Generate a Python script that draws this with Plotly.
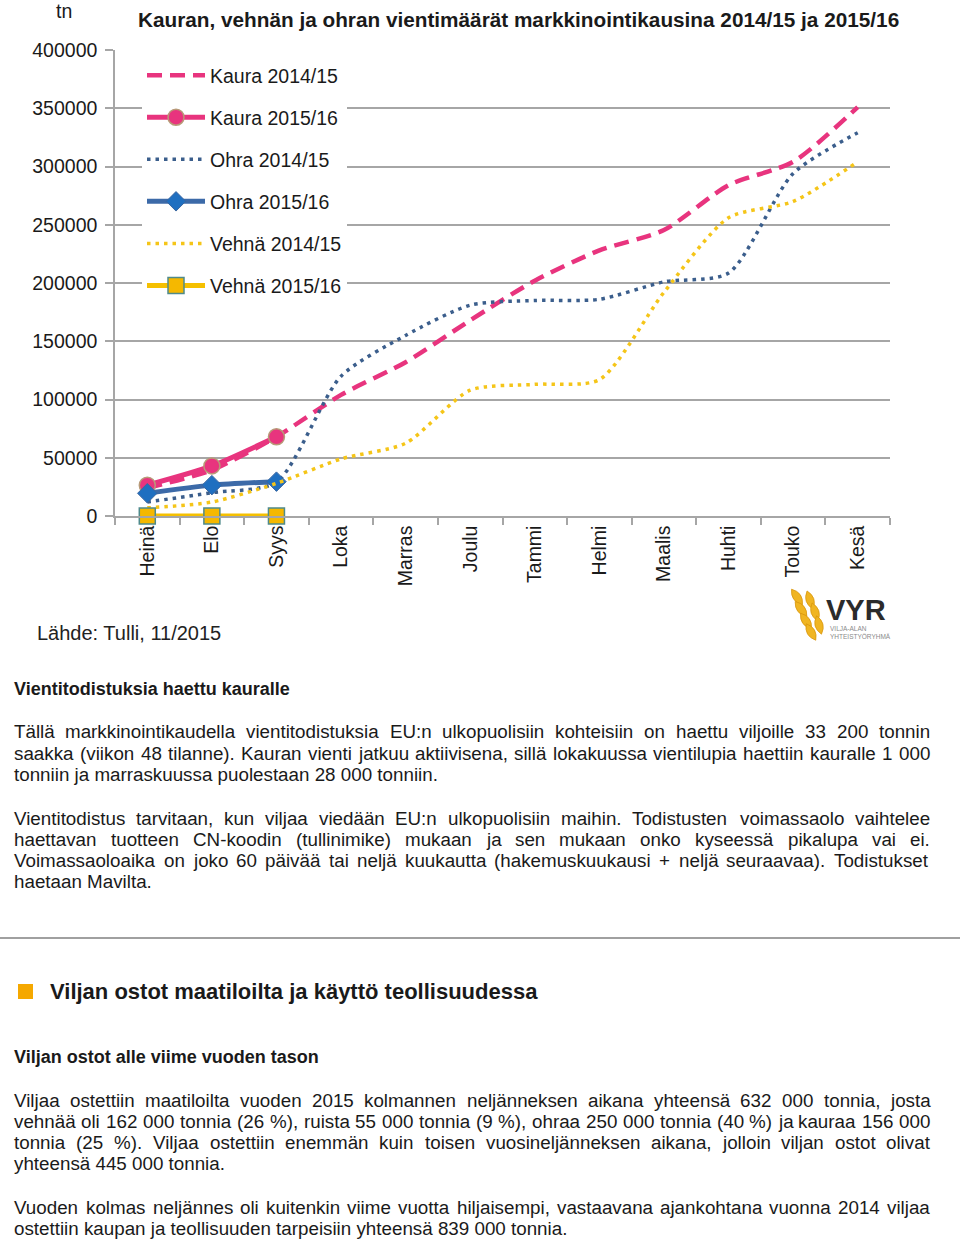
import math
import plotly.graph_objects as go

# chart data (tonnes, cumulative per marketing season)
months = ["Heinä", "Elo", "Syys", "Loka", "Marras", "Joulu",
          "Tammi", "Helmi", "Maalis", "Huhti", "Touko", "Kesä"]
kaura_1415 = [24000, 39500, 68000, 104000, 132000, 168000, 202000, 228000, 245500, 284000, 304000, 351000]
kaura_1516 = [26500, 43000, 68000]
ohra_1415 = [12000, 20000, 29000, 120000, 155000, 181000, 185000, 186000, 201000, 208500, 294000, 329000]
ohra_1516 = [19500, 26500, 29500]
vehna_1415 = [7000, 12000, 28000, 49000, 62500, 108000, 113000, 117000, 192000, 256000, 270000, 304000]
vehna_1516 = [0, 0, 0]

W, H = 960, 1242
FONT = "Liberation Sans, Arial, sans-serif"
TXT = "#1a1a1a"
GRID = "#a6a6a6"
PINK = "#e8347e"
NAVY = "#3b5e8c"
BLUE = "#3c6aa8"
YELLOW = "#f5c518"


def px(x):
    return x / W


def py(y):
    return 1 - y / H


# Arial / Liberation Sans advance widths (1/1000 em), used to justify text
REG = {" ": 278, "%": 889, "(": 333, ")": 333, "+": 584, ",": 278, "-": 333, ".": 278,
       "/": 278, ":": 278,
       "A": 667, "B": 667, "C": 722, "D": 722, "E": 667, "F": 611, "G": 778, "H": 722,
       "I": 278, "J": 500, "K": 667, "L": 556, "M": 833, "N": 722, "O": 778, "P": 667,
       "Q": 778, "R": 722, "S": 667, "T": 611, "U": 722, "V": 667, "W": 944, "X": 667,
       "Y": 667, "Z": 611,
       "a": 556, "b": 556, "c": 500, "d": 556, "e": 556, "f": 278, "g": 556, "h": 556,
       "i": 222, "j": 222, "k": 500, "l": 222, "m": 833, "n": 556, "o": 556, "p": 556,
       "q": 556, "r": 333, "s": 500, "t": 278, "u": 556, "v": 500, "w": 722, "x": 500,
       "y": 500, "z": 500, "ä": 556, "ö": 556, "å": 556}
for d in "0123456789":
    REG[d] = 556


def text_w(s, size):
    return sum(REG.get(c, 556) for c in s) / 1000 * size


annotations = []
shapes = []


def label(x, y, text, size, bold=False, color=TXT, anchor="left"):
    if bold:
        text = "<b>" + text + "</b>"
    annotations.append(dict(x=px(x), y=py(y), xref="paper", yref="paper", text=text,
                            showarrow=False, xanchor=anchor, yanchor="middle",
                            font=dict(family=FONT, size=size, color=color)))


def paragraph(lines, y0, size=18.8, step=21.3, left=14, right=930):
    for i, line in enumerate(lines):
        y = y0 + i * step
        if i == len(lines) - 1:
            label(left - 2, y, line, size)
            continue
        words = line.split(" ")
        widths = [text_w(w, size) for w in words]
        gap = (right - left - sum(widths)) / (len(words) - 1)
        x = left
        for w, ww in zip(words, widths):
            label(x - 2, y, w, size)
            x += ww + gap


fig = go.Figure()

spline = dict(shape="spline", smoothing=0.7)
fig.add_trace(go.Scatter(x=months, y=kaura_1415, name="Kaura 2014/15", mode="lines",
                         legendgroup="a",
                         line=dict(color=PINK, width=4.5, dash="15px,8px", **spline)))
fig.add_trace(go.Scatter(x=months[:3], y=kaura_1516, name="Kaura 2015/16", mode="lines+markers",
                         legendgroup="b",
                         line=dict(color=PINK, width=5, **spline),
                         marker=dict(symbol="circle", size=16, color=PINK,
                                     line=dict(color="#b89a78", width=1.5))))
fig.add_trace(go.Scatter(x=months, y=ohra_1415, name="Ohra 2014/15", mode="lines",
                         legendgroup="c",
                         line=dict(color=NAVY, width=3.5, dash="3.5px,5px", **spline)))
fig.add_trace(go.Scatter(x=months[:3], y=ohra_1516, name="Ohra 2015/16", mode="lines+markers",
                         legendgroup="d",
                         line=dict(color=BLUE, width=5, **spline),
                         marker=dict(symbol="diamond", size=15, color="#1f6fc0",
                                     line=dict(color="#3a66a0", width=1))))
fig.add_trace(go.Scatter(x=months, y=vehna_1415, name="Vehnä 2014/15", mode="lines",
                         legendgroup="e",
                         line=dict(color=YELLOW, width=3.5, dash="3.5px,5px", **spline)))
fig.add_trace(go.Scatter(x=months[:3], y=vehna_1516, name="Vehnä 2015/16", mode="lines+markers",
                         legendgroup="f",
                         line=dict(color="#f5c000", width=5),
                         marker=dict(symbol="square", size=16, color="#f5b800",
                                     line=dict(color="#4f8a8b", width=1.5)),
                         cliponaxis=False))

# chart texts
label(518, 20, "Kauran, vehnän ja ohran vientimäärät markkinointikausina 2014/15 ja 2015/16",
      20.75, bold=True, anchor="center")
label(64, 11, "tn", 19.5, anchor="center")
label(35, 633, "Lähde: Tulli, 11/2015", 20, color="#222222")


# VYR logo: wheat ear built from grain shapes
def grain(cx, cy, length, width, ang):
    a = math.radians(ang)
    dx, dy = math.cos(a) * length / 2, math.sin(a) * length / 2
    nx, ny = -math.sin(a) * width, math.cos(a) * width
    x1, y1, x2, y2 = cx - dx, cy - dy, cx + dx, cy + dy
    p = (f"M {px(x1)},{py(y1)} Q {px(cx + nx)},{py(cy + ny)} {px(x2)},{py(y2)} "
         f"Q {px(cx - nx)},{py(cy - ny)} {px(x1)},{py(y1)} Z")
    return dict(type="path", path=p, xref="paper", yref="paper",
                fillcolor="#f0b522", line=dict(color="#d8960c", width=0.8), layer="above")


for cx, cy, ang in [(797, 597, 55), (801, 609, 52), (806, 621, 55), (811, 632, 60),
                    (810, 600, 72), (815, 612, 72), (819, 625, 75)]:
    shapes.append(grain(cx, cy, 19, 8, ang))
label(824, 610, "VYR", 29, bold=True, color="#2b2b2b")
annotations.append(dict(x=px(828), y=py(632), xref="paper", yref="paper",
                        text="VILJA-ALAN<br>YHTEISTYÖRYHMÄ", showarrow=False,
                        xanchor="left", yanchor="middle", align="left",
                        font=dict(family=FONT, size=6.5, color="#8a8a8a")))

# document text below the chart
label(12, 689, "Vientitodistuksia haettu kauralle", 18, bold=True)
paragraph([
    "Tällä markkinointikaudella vientitodistuksia EU:n ulkopuolisiin kohteisiin on haettu viljoille 33 200 tonnin",
    "saakka (viikon 48 tilanne). Kauran vienti jatkuu aktiivisena, sillä lokakuussa vientilupia haettiin kauralle 1 000",
    "tonniin ja marraskuussa puolestaan 28 000 tonniin.",
], 732)
paragraph([
    "Vientitodistus tarvitaan, kun viljaa viedään EU:n ulkopuolisiin maihin. Todistusten voimassaolo vaihtelee",
    "haettavan tuotteen CN-koodin (tullinimike) mukaan ja sen mukaan onko kyseessä pikalupa vai ei.",
    "Voimassaoloaika on joko 60 päivää tai neljä kuukautta (hakemuskuukausi + neljä seuraavaa). Todistukset",
    "haetaan Mavilta.",
], 818)

shapes.append(dict(type="line", xref="paper", yref="paper", x0=0, x1=1,
                   y0=py(938), y1=py(938), line=dict(color="#a0a0a0", width=2)))
shapes.append(dict(type="rect", xref="paper", yref="paper", x0=px(18), x1=px(33),
                   y0=py(999), y1=py(984), fillcolor="#f5a800", line=dict(width=0)))
label(48, 991, "Viljan ostot maatiloilta ja käyttö teollisuudessa", 22, bold=True)
label(12, 1057, "Viljan ostot alle viime vuoden tason", 18, bold=True)
paragraph([
    "Viljaa ostettiin maatiloilta vuoden 2015 kolmannen neljänneksen aikana yhteensä 632 000 tonnia, josta",
    "vehnää oli 162 000 tonnia (26 %), ruista 55 000 tonnia (9 %), ohraa 250 000 tonnia (40 %) ja kauraa 156 000",
    "tonnia (25 %). Viljaa ostettiin enemmän kuin toisen vuosineljänneksen aikana, jolloin viljan ostot olivat",
    "yhteensä 445 000 tonnia.",
], 1100)
paragraph([
    "Vuoden kolmas neljännes oli kuitenkin viime vuotta hiljaisempi, vastaavana ajankohtana vuonna 2014 viljaa",
    "ostettiin kaupan ja teollisuuden tarpeisiin yhteensä 839 000 tonnia.",
], 1207)

fig.update_layout(
    width=W, height=H, autosize=False,
    margin=dict(l=0, r=0, t=0, b=0, pad=0, autoexpand=False),
    paper_bgcolor="white", plot_bgcolor="white",
    font=dict(family=FONT, color=TXT),
    xaxis=dict(domain=[px(115), px(890)], type="category", range=[-0.5, 11.5],
               automargin=False,
               showline=True, linecolor=GRID, linewidth=1.5, showgrid=False, zeroline=False,
               ticks="outside", tickson="boundaries", ticklen=7, tickcolor=GRID, tickwidth=1.5,
               tickangle=-90, tickfont=dict(size=19.5, color=TXT)),
    yaxis=dict(domain=[py(516), py(50)], range=[0, 400000], dtick=50000, tick0=0,
               automargin=False,
               tickformat="d", showgrid=True, gridcolor=GRID, gridwidth=1.5,
               showline=True, linecolor=GRID, linewidth=1.5, zeroline=False,
               ticks="outside", ticklen=8, tickcolor=GRID, tickwidth=1.5,
               ticklabelstandoff=4, tickfont=dict(size=19.5, color=TXT)),
    legend=dict(x=px(142), y=py(56), xanchor="left", yanchor="top", bgcolor="white",
                font=dict(family=FONT, size=19.5, color=TXT), itemwidth=58,
                traceorder="grouped", tracegroupgap=13.7),
    annotations=annotations,
    shapes=shapes,
)

# the page's default body margin would push the figure 8px down and right
fig.write_html("out.html", config={"displayModeBar": False},
               post_script="document.body.style.margin = '0';")
